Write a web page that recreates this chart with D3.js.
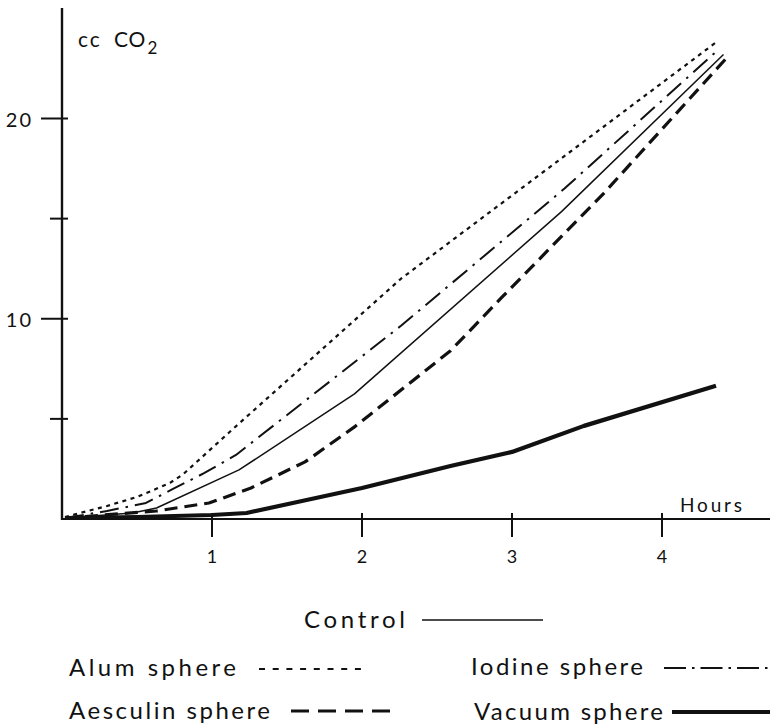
<!DOCTYPE html>
<html>
<head>
<meta charset="utf-8">
<script src="https://cdn.jsdelivr.net/npm/d3@7"></script>
<style>
  html, body { margin: 0; padding: 0; background: #fff; }
  svg { display: block; }
  text { font-family: Lato, "Open Sans", sans-serif; fill: #111; }
</style>
</head>
<body>
<svg id="chart" width="770" height="727"></svg>
<script>
// CO2 evolved (cc) against time (hours) for each sphere treatment
const xTicks = [1, 2, 3, 4];
const yTicks = [5, 10, 15, 20];
const yLabelled = [10, 20];

const control  = [[0.02,0.05],[0.47,0.3],[0.63,0.55],[1.18,2.45],[1.95,6.25],[3.33,15.35],[4.41,23.2]];
const alum     = [[0.02,0.1],[0.3,0.65],[0.5,1.1],[0.72,1.8],[0.81,2.25],[1.14,4.5],[2.26,12.0],[4.36,23.8]];
const iodine   = [[0.02,0.05],[0.3,0.4],[0.56,0.8],[0.74,1.5],[0.95,2.3],[1.16,3.2],[2.26,9.65],[3.35,16.5],[4.37,23.4]];
const aesculin = [[0.02,0.05],[0.63,0.4],[0.98,0.8],[1.26,1.55],[1.62,2.85],[1.95,4.6],[2.59,8.4],[2.93,11.05],[3.61,16.25],[4.44,23.1]];
const vacuum   = [[0.02,0.05],[0.5,0.1],[1.0,0.2],[1.23,0.3],[1.6,0.9],[2.0,1.55],[2.59,2.65],[3.0,3.35],[3.48,4.65],[4.36,6.65]];

const seriesNames = ["Control", "Alum sphere", "Iodine sphere", "Aesculin sphere", "Vacuum sphere"];

// line styles for each treatment
const styles = {
  "Control":         { w: 1.5, dash: null,          legendDash: null },
  "Alum sphere":     { w: 2.2, dash: "4,4.5",       legendDash: "6,7.7" },
  "Iodine sphere":   { w: 2.0, dash: "19,7,2.5,7",  legendDash: "22,6,2.5,6" },
  "Aesculin sphere": { w: 3.2, dash: "13,7",        legendDash: "18,9" },
  "Vacuum sphere":   { w: 4.2, dash: null,          legendDash: null }
};
const dataBySeries = {
  "Control": control, "Alum sphere": alum, "Iodine sphere": iodine,
  "Aesculin sphere": aesculin, "Vacuum sphere": vacuum
};

const svg = d3.select("#chart");
const x = d3.scaleLinear().domain([0, 4]).range([62, 662]);
const y = d3.scaleLinear().domain([0, 20]).range([519, 118.5]);

// axes
const axisG = svg.append("g").attr("stroke", "#111").attr("fill", "none");
axisG.append("line").attr("x1", x(0)).attr("x2", 770).attr("y1", y(0)).attr("y2", y(0)).attr("stroke-width", 2.2);
axisG.append("line").attr("x1", x(0)).attr("x2", x(0)).attr("y1", 8).attr("y2", y(0) + 1).attr("stroke-width", 2.4);

// y ticks: labelled ticks are longer
axisG.selectAll(".yt").data(yTicks).join("line")
  .attr("x1", d => yLabelled.includes(d) ? x(0) - 21 : x(0) - 12)
  .attr("x2", x(0) + 6)
  .attr("y1", d => y(d)).attr("y2", d => y(d))
  .attr("stroke-width", 2);
svg.selectAll(".yl").data(yLabelled).join("text")
  .attr("x", 33).attr("y", d => y(d) + 8)
  .attr("text-anchor", "end").attr("font-size", 20).attr("letter-spacing", 2)
  .text(d => d);

// x ticks
axisG.selectAll(".xt").data(xTicks).join("line")
  .attr("x1", d => x(d)).attr("x2", d => x(d))
  .attr("y1", y(0) - 6).attr("y2", y(0) + 18)
  .attr("stroke-width", 2);
svg.selectAll(".xl").data(xTicks).join("text")
  .attr("x", d => x(d)).attr("y", 563)
  .attr("text-anchor", "middle").attr("font-size", 18)
  .text(d => d);

// axis titles
svg.append("text").attr("x", 680).attr("y", 512).attr("font-size", 19)
  .attr("textLength", 62).attr("lengthAdjust", "spacing").text("Hours");
const yTitle = svg.append("text").attr("x", 78).attr("y", 47).attr("font-size", 21);
yTitle.append("tspan").attr("letter-spacing", 2).text("cc");
yTitle.append("tspan").attr("dx", 12).attr("letter-spacing", 1).text("CO");
yTitle.append("tspan").attr("dy", 7).attr("font-size", 17).attr("dx", 1).text("2");

// curves
const line = d3.line().x(d => x(d[0])).y(d => y(d[1]));
seriesNames.forEach(name => {
  const s = styles[name];
  svg.append("path")
    .datum(dataBySeries[name])
    .attr("d", line)
    .attr("fill", "none")
    .attr("stroke", "#111")
    .attr("stroke-width", s.w)
    .attr("stroke-linejoin", "round")
    .attr("stroke-dasharray", s.dash);
});

// legend
const legendItems = [
  { name: "Control",         tx: 304, tw: 101, ty: 628, lx1: 422, lx2: 543, ly: 620 },
  { name: "Alum sphere",     tx: 69,  tw: 167, ty: 676, lx1: 259, lx2: 368, ly: 669 },
  { name: "Iodine sphere",   tx: 471, tw: 172, ty: 675, lx1: 664, lx2: 769, ly: 668 },
  { name: "Aesculin sphere", tx: 69,  tw: 201, ty: 719, lx1: 291, lx2: 393, ly: 711 },
  { name: "Vacuum sphere",   tx: 474, tw: 189, ty: 720, lx1: 672, lx2: 770, ly: 712 }
];
legendItems.forEach(it => {
  const s = styles[it.name];
  svg.append("text")
    .attr("x", it.tx).attr("y", it.ty)
    .attr("font-size", 24)
    .attr("textLength", it.tw).attr("lengthAdjust", "spacing")
    .text(it.name);
  svg.append("line")
    .attr("x1", it.lx1).attr("x2", it.lx2).attr("y1", it.ly).attr("y2", it.ly)
    .attr("stroke", "#111").attr("stroke-width", s.w)
    .attr("stroke-dasharray", s.legendDash);
});
</script>
</body>
</html>
